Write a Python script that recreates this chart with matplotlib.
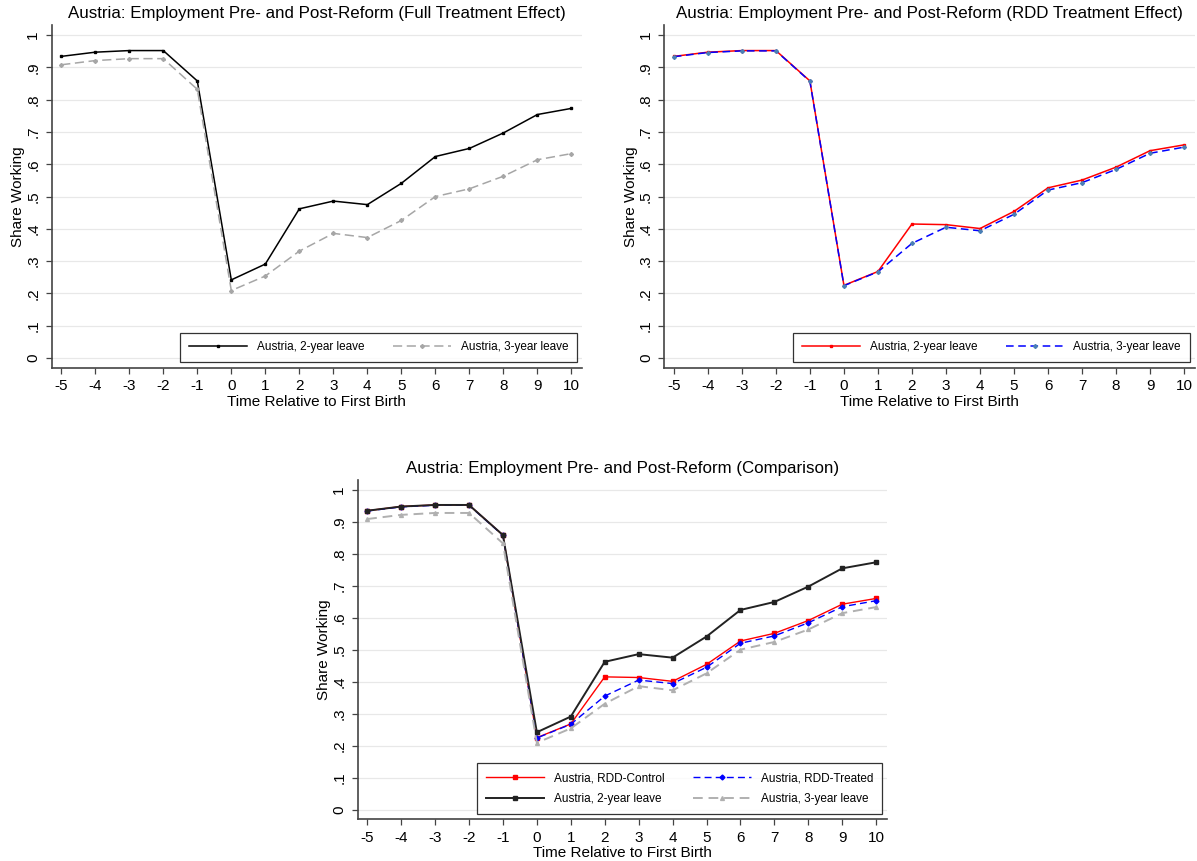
import numpy as np
import matplotlib.pyplot as plt
from matplotlib.ticker import FixedLocator

plt.rcParams['font.family'] = ['Liberation Sans', 'DejaVu Sans']

# Data
time = list(range(-5, 11))
two_year = [0.934, 0.947, 0.952, 0.952, 0.858, 0.242, 0.291, 0.462, 0.486, 0.475,
            0.541, 0.624, 0.649, 0.697, 0.754, 0.773]
three_year = [0.908, 0.921, 0.927, 0.927, 0.832, 0.209, 0.254, 0.331, 0.386, 0.373,
              0.426, 0.500, 0.524, 0.563, 0.614, 0.633]
rdd_control = [0.934, 0.947, 0.952, 0.952, 0.858, 0.225, 0.268, 0.415, 0.413, 0.401,
               0.454, 0.527, 0.551, 0.591, 0.642, 0.660]
rdd_treated = [0.933, 0.946, 0.951, 0.951, 0.857, 0.224, 0.267, 0.355, 0.405, 0.394,
               0.445, 0.520, 0.543, 0.584, 0.634, 0.653]
yticks = [i / 10 for i in range(11)]
ytick_labels = ["0", ".1", ".2", ".3", ".4", ".5", ".6", ".7", ".8", ".9", "1"]

GRAY = "#a6a6a6"


def style_axes(ax, title):
    ax.set_xlim(-5.28, 10.31)
    ax.set_ylim(-0.030, 1.031)
    ax.set_xticks(time)
    ax.set_xticklabels([str(t) for t in time], fontsize=11)
    ax.yaxis.set_major_locator(FixedLocator(yticks))
    ax.set_yticklabels(ytick_labels, fontsize=11, rotation=90, va="center")
    ax.grid(axis="y", color="#e8e8e8", linewidth=0.9)
    ax.set_axisbelow(True)
    for s in ["top", "right"]:
        ax.spines[s].set_visible(False)
    for s in ["left", "bottom"]:
        ax.spines[s].set_color("#444444")
        ax.spines[s].set_linewidth(1.2)
    ax.tick_params(axis="both", direction="out", length=4.2, width=0.9,
                   color="#444444")
    ax.tick_params(axis="x", pad=4)
    ax.tick_params(axis="y", pad=4)
    ax.set_xlabel("Time Relative to First Birth", fontsize=11, labelpad=1)
    ax.set_ylabel("Share Working", fontsize=11, labelpad=1)
    ax.set_title(title, fontsize=12.2, pad=5)


def add_legend(ax, handles=None):
    kw = dict(loc="lower right", ncol=2, fontsize=8.5, frameon=True, fancybox=False,
              edgecolor="black", handlelength=4.9, handletextpad=0.85,
              columnspacing=2.4, bbox_to_anchor=(0.991, 0.016), borderpad=0.75,
              borderaxespad=0, labelspacing=0.75)
    if handles is not None:
        kw["handles"] = handles
    leg = ax.legend(**kw)
    leg.get_frame().set_linewidth(0.9)
    return leg


fig = plt.figure(figsize=(11.97, 8.61), dpi=100)

# Top left: full treatment effect
ax1 = fig.add_axes([0.0432, 0.5729, 0.443, 0.398])
ax1.plot(time, two_year, color="black", linewidth=1.1, marker="s", markersize=2,
         label="Austria, 2-year leave")
ax1.plot(time, three_year, color=GRAY, linewidth=1.1, linestyle=(0, (6, 3)),
         marker="D", markersize=2, label="Austria, 3-year leave")
style_axes(ax1, "Austria: Employment Pre- and Post-Reform (Full Treatment Effect)")
add_legend(ax1)

# Top right: RDD treatment effect
ax2 = fig.add_axes([0.555, 0.5729, 0.443, 0.398])
ax2.plot(time, rdd_control, color="red", linewidth=1.1, marker="s", markersize=2,
         label="Austria, 2-year leave")
ax2.plot(time, rdd_treated, color="blue", linewidth=1.1, linestyle=(0, (5, 3)),
         marker="D", markersize=2, markerfacecolor="#4a7fb5", markeredgecolor="#4a7fb5",
         label="Austria, 3-year leave")
style_axes(ax2, "Austria: Employment Pre- and Post-Reform (RDD Treatment Effect)")
add_legend(ax2)

# Bottom: comparison
ax3 = fig.add_axes([0.2988, 0.0484, 0.442, 0.3945])
l_ctrl, = ax3.plot(time, rdd_control, color="red", linewidth=1.0, marker="s",
                   markersize=2.2, label="Austria, RDD-Control")
l_trt, = ax3.plot(time, rdd_treated, color="blue", linewidth=1.0, linestyle=(0, (5, 3)),
                  marker="D", markersize=2.5, label="Austria, RDD-Treated")
l_two, = ax3.plot(time, two_year, color="#222222", linewidth=1.4, marker="s",
                  markersize=2.8, label="Austria, 2-year leave")
l_three, = ax3.plot(time, three_year, color="#b0b0b0", linewidth=1.4,
                    linestyle=(0, (5, 3)), marker="^", markersize=2.8,
                    label="Austria, 3-year leave")
style_axes(ax3, "Austria: Employment Pre- and Post-Reform (Comparison)")
add_legend(ax3, handles=[l_ctrl, l_two, l_trt, l_three])

plt.savefig("out.png", dpi=100)
